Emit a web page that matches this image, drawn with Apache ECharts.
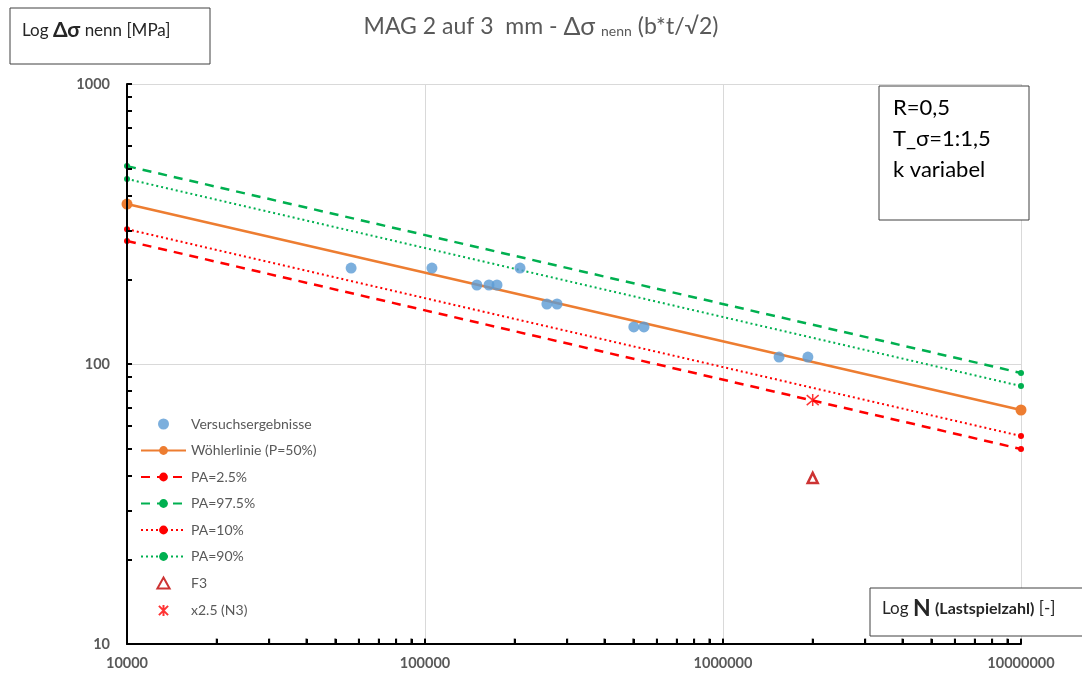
<!DOCTYPE html>
<html>
<head>
<meta charset="utf-8">
<script src="https://cdn.jsdelivr.net/npm/echarts@6/dist/echarts.min.js"></script>
<style>
  html, body { margin: 0; padding: 0; background: #fff; }
  #chart { width: 1082px; height: 679px; }
</style>
</head>
<body>
<div id="chart"></div>
<script>
// Lastspielzahl an den Enden der Wöhlerlinien
const nEnds = [10000, 10000000]
const woehler50 = [372.6, 68.5]
const pa25 = [275, 49.7]
const pa975 = [509, 92.9]
const pa10 = [303, 55.3]
const pa90 = [458, 83.4]

// Versuchsergebnisse
const versuchN = [56500, 105500, 149300, 164000, 174400, 208400, 256500, 277400, 502000, 543000, 1542000, 1927000]
const versuchS = [220, 220, 191.5, 191.5, 191.5, 220, 163.8, 163.8, 135.6, 135.6, 105.9, 105.9]

const f3 = [[2000000, 39.2]]
const n3 = [[2000000, 74.3]]

// Teilstriche 1..9 je Dekade
const xTicks = [10000, 20000, 30000, 40000, 50000, 60000, 70000, 80000, 90000,
  100000, 200000, 300000, 400000, 500000, 600000, 700000, 800000, 900000,
  1000000, 2000000, 3000000, 4000000, 5000000, 6000000, 7000000, 8000000, 9000000, 10000000]
const yTicks = [10, 20, 30, 40, 50, 60, 70, 80, 90, 100, 200, 300, 400, 500, 600, 700, 800, 900, 1000]

const pairs = (xs, ys) => xs.map((x, i) => [x, ys[i]])

const FONT = 'Lato, "Open Sans", sans-serif'
const GREY = '#595959'
const TRI = 'path://M5,0L10,9L0,9Z'

const lineSeries = (name, ys, color, type, width, symSize) => ({
  name,
  type: 'line',
  data: pairs(nEnds, ys),
  symbol: 'circle',
  symbolSize: symSize,
  lineStyle: { color, width, type },
  itemStyle: { color },
  z: 2
})

// Hauptachse: Teilstriche 1..9 je Dekade, Beschriftung nur an den Dekaden
const mainAxis = (min, max, ticks, position, margin) => ({
  type: 'log',
  logBase: 10,
  min,
  max,
  position,
  axisLine: { show: true, lineStyle: { color: '#000', width: 2 } },
  axisTick: { show: true, inside: true, length: 5, customValues: ticks, lineStyle: { color: '#000', width: 2 } },
  axisLabel: {
    color: GREY, fontWeight: 'bold', fontSize: 14.5, margin,
    formatter: v => String(Math.round(v))
  },
  splitLine: { show: false },
  z: 3
})

// zweite Achse nur fuer die Gitterlinien an den Dekaden
const gridAxis = (min, max, position) => ({
  type: 'log',
  logBase: 10,
  min,
  max,
  position,
  axisLine: { show: false },
  axisTick: { show: false },
  axisLabel: { show: false },
  splitLine: { show: true, lineStyle: { color: '#D9D9D9', width: 1 } }
})

const chart = echarts.init(document.getElementById('chart'), null, { renderer: 'canvas' })

chart.setOption({
  animation: false,
  textStyle: { fontFamily: FONT },
  title: {
    text: 'MAG 2 auf 3  mm - {sig|Δσ} {sub|nenn} (b*t/√2)',
    left: 'center',
    top: 9,
    textStyle: {
      color: GREY,
      fontSize: 23,
      fontWeight: 'normal',
      fontFamily: FONT,
      rich: {
        sig: { fontSize: 25, color: GREY, fontFamily: FONT },
        sub: { fontSize: 14, color: GREY, fontFamily: FONT, padding: [9, 0, 0, 0] }
      }
    }
  },
  grid: { left: 127, right: 61, top: 84, bottom: 35 },
  legend: {
    orient: 'vertical',
    left: 135,
    top: 412,
    itemWidth: 45,
    itemHeight: 11,
    itemGap: 12.5,
    textStyle: { color: GREY, fontSize: 14, fontFamily: FONT },
    data: [
      'Versuchsergebnisse', 'Wöhlerlinie (P=50%)', 'PA=2.5%', 'PA=97.5%', 'PA=10%', 'PA=90%',
      { name: 'F3', icon: TRI },
      'x2.5 (N3)'
    ]
  },
  xAxis: [
    mainAxis(10000, 10000000, xTicks, 'bottom', 12),
    gridAxis(10000, 10000000, 'bottom')
  ],
  yAxis: [
    mainAxis(10, 1000, yTicks, 'left', 17),
    gridAxis(10, 1000, 'left')
  ],
  series: [
    {
      name: 'Versuchsergebnisse',
      type: 'scatter',
      data: pairs(versuchN, versuchS),
      symbol: 'circle',
      symbolSize: 11,
      itemStyle: { color: '#5B9BD5' },
      z: 5
    },
    lineSeries('Wöhlerlinie (P=50%)', woehler50, '#ED7D31', 'solid', 2.5, 11),
    lineSeries('PA=2.5%', pa25, '#FF0000', [9, 7], 2.5, 6),
    lineSeries('PA=97.5%', pa975, '#00B050', [9, 7], 2.5, 6),
    lineSeries('PA=10%', pa10, '#FF0000', [2, 3], 2, 6),
    lineSeries('PA=90%', pa90, '#00B050', [2, 3], 2, 6),
    {
      name: 'F3',
      type: 'scatter',
      data: f3,
      symbol: TRI,
      symbolSize: 10,
      itemStyle: { color: '#fff', borderColor: '#C00000', borderWidth: 2.5 },
      z: 5
    },
    {
      name: 'x2.5 (N3)',
      type: 'scatter',
      data: n3,
      symbol: 'path://M0,0L10,10M10,0L0,10M5,-1L5,11',
      symbolSize: 12,
      itemStyle: { color: 'none', borderColor: '#FF0000', borderWidth: 1.5 },
      z: 5
    },
    {
      // Teilstriche der x-Achse
      name: 'xTicks',
      type: 'scatter',
      data: xTicks.map(x => [x, 10]),
      symbol: 'rect',
      symbolSize: [2, 5],
      symbolOffset: [0, -3],
      itemStyle: { color: '#000' },
      silent: true,
      clip: false,
      z: 4
    }
  ],
  graphic: [
    {
      type: 'rect',
      z: 100,
      shape: { x: 10, y: 8, width: 200, height: 56 },
      style: { fill: '#fff', stroke: '#404040', lineWidth: 1 }
    },
    {
      type: 'text',
      z: 101,
      left: 22,
      top: 20,
      style: {
        text: 'Log {b|Δσ} nenn [MPa]',
        fill: '#262626',
        fontSize: 17,
        fontFamily: FONT,
        rich: {
          b: { fontSize: 21, fontWeight: 'bold', fill: '#262626', fontFamily: FONT }
        }
      }
    },
    {
      type: 'rect',
      z: 100,
      shape: { x: 879, y: 86, width: 150, height: 134 },
      style: { fill: '#fff', stroke: '#404040', lineWidth: 1 }
    },
    {
      type: 'text',
      z: 101,
      left: 893,
      top: 92,
      style: {
        text: 'R=0,5\nT_σ=1:1,5\nk variabel',
        fill: '#000',
        fontSize: 22,
        lineHeight: 31,
        fontFamily: FONT
      }
    },
    {
      type: 'rect',
      z: 100,
      shape: { x: 870, y: 588, width: 230, height: 48 },
      style: { fill: '#fff', stroke: '#404040', lineWidth: 1 }
    },
    {
      type: 'text',
      z: 101,
      left: 882,
      top: 597,
      style: {
        text: 'Log {n|N} {b|(Lastspielzahl)} [-]',
        fill: '#262626',
        fontSize: 17,
        fontFamily: FONT,
        rich: {
          n: { fontSize: 23, fontWeight: 'bold', fill: '#262626', fontFamily: FONT },
          b: { fontSize: 16, fontWeight: 'bold', fill: '#262626', fontFamily: FONT }
        }
      }
    }
  ]
})
</script>
</body>
</html>
